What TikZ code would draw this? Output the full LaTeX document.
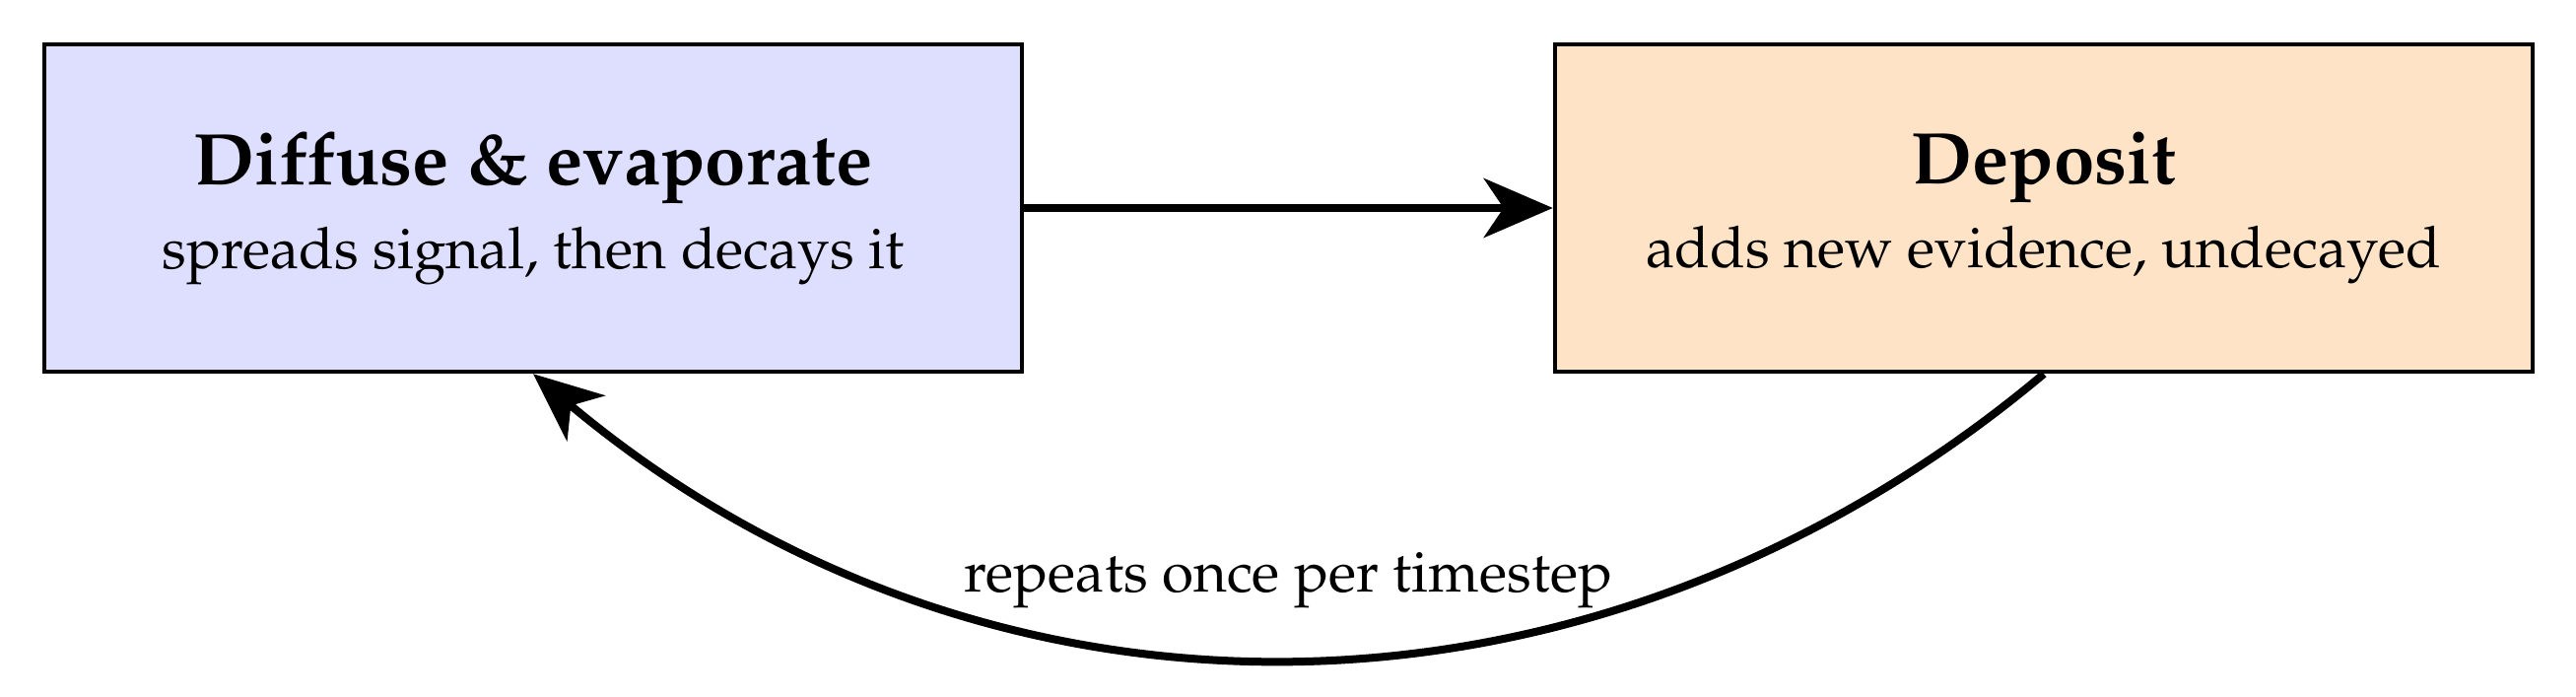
\documentclass[tikz,border=0pt,12pt]{standalone}
\IfFileExists{mathpazo.sty}{\usepackage[T1]{fontenc}\usepackage{mathpazo}}{%
  \IfFileExists{palatino.sty}{\usepackage[T1]{fontenc}\usepackage{palatino}}{}}
\usetikzlibrary{arrows.meta}

\definecolor{diffusefill}{RGB}{222,222,255}
\definecolor{depositfill}{RGB}{254,227,199}

\newcommand{\stagetitle}[1]{{\fontsize{14.87}{18}\selectfont\bfseries #1}}

\tikzset{every picture/.style={line width=0.9pt}}
\tikzset{
  stagebox/.style={draw, line width=0.9pt, minimum width=198.4pt, minimum height=66.4pt, inner sep=0pt, align=center, font=\fontsize{11.66}{14}\selectfont},
  flowarrow/.style={line width=1.6pt, -{Stealth[length=14pt,width=12pt,inset=4pt]}}
}

\begin{document}
\begin{tikzpicture}[x=1pt,y=1pt,yscale=-1,xscale=1]
	%set diagram left start at 0, width 522.8, height 141.4
	\useasboundingbox (0,0) rectangle (522.8,141.4);
	
	%Shape: Rectangle [diffuse]
	\node [stagebox, fill=diffusefill] (diffuse) at (108.2,42.2) {\stagetitle{Diffuse \& evaporate}\\[3pt]spreads signal, then decays it};
	%Shape: Rectangle [deposit]
	\node [stagebox, fill=depositfill] (deposit) at (414.8,42.2) {\stagetitle{Deposit}\\[3pt]adds new evidence, undecayed};
	
	%Straight Lines
	\draw [flowarrow] (diffuse) -- (deposit) ;
	%Curve Lines
	\draw [flowarrow] (deposit.south) to [bend right=40] node [above=5.3pt, font=\fontsize{11.66}{14}\selectfont] (loop) {repeats once per timestep} (diffuse.south) ;
	
\end{tikzpicture}
\end{document}
